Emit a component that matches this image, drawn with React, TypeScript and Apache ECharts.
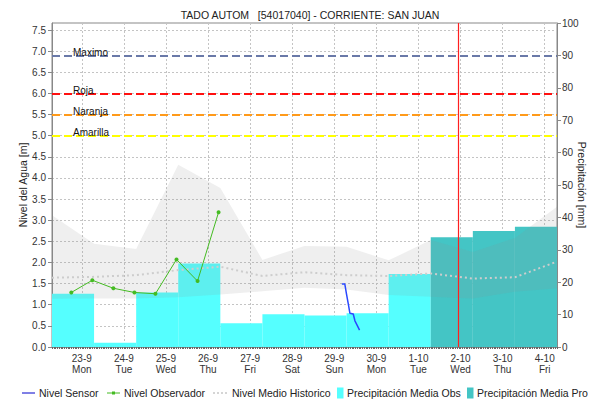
import React, { useEffect, useRef } from "react";
import * as echarts from "echarts";

// ---- data (x in days since 23-9 00:00) ----
const dayLabels = ["23-9", "24-9", "25-9", "26-9", "27-9", "28-9", "29-9", "30-9", "1-10", "2-10", "3-10", "4-10"];
const weekDays = ["Mon", "Tue", "Wed", "Thu", "Fri", "Sat", "Sun", "Mon", "Tue", "Wed", "Thu", "Fri"];
const dayStartOffset = -17 / 24; // precipitation day starts 07:00
const xMin = dayStartOffset;
const xMax = 12 + dayStartOffset;

// precipitation (mm) per day (07:00 -> 07:00)
const precipObs = [16.4, 1.3, 16.8, 25.8, 7.3, 10.1, 9.7, 10.4, 22.5];
const precipPro = [33.9, 35.8, 37.1];

// historical band (m) at 07:00 of each day
const bandUpper = [3.12, 2.44, 2.32, 4.31, 3.76, 2.06, 2.39, 2.37, 2.05, 2.53, 2.25, 2.58, 3.32];
const bandLower = [1.14, 1.15, 1.15, 1.18, 1.24, 1.32, 1.4, 1.36, 1.23, 1.19, 1.15, 1.31, 1.39];
const medioHistorico = [1.64, 1.66, 1.7, 1.82, 1.9, 1.68, 1.77, 1.7, 1.68, 1.74, 1.62, 1.65, 2.02];

// observer readings (06:00 / 18:00)
const obsTimes = [-0.25, 0.25, 0.75, 1.25, 1.75, 2.25, 2.75, 3.25];
const obsLevels = [1.29, 1.58, 1.39, 1.29, 1.26, 2.07, 1.56, 3.19];

// sensor readings
const sensorTimes = [6.18, 6.25, 6.29, 6.33, 6.37, 6.45, 6.49, 6.55, 6.6];
const sensorLevels = [1.49, 1.49, 1.25, 1.03, 0.8, 0.78, 0.62, 0.5, 0.4];

// thresholds
const thresholdNames = ["Maximo", "Roja", "Naranja", "Amarilla"];
const thresholdValues = [6.9, 6.0, 5.5, 5.0];
const thresholdColors = ["#6a79a8", "#ff1010", "#ff9a1a", "#ffff00"];

const nowTime = 8.95;

const FONT = "Liberation Sans, Arial, sans-serif";

export default function App() {
  const ref = useRef<HTMLDivElement>(null);

  useEffect(() => {
    if (!ref.current) return;
    const chart = echarts.init(ref.current, null, { renderer: "svg" });

    const obsBars = precipObs.map((v, k) => [dayStartOffset + k, dayStartOffset + k + 1, v]);
    const proBars = precipPro.map((v, k) => [
      dayStartOffset + precipObs.length + k,
      dayStartOffset + precipObs.length + k + 1,
      v,
    ]);
    const bandData = bandUpper.map((u, k) => [dayStartOffset + k, bandLower[k], u]);
    const medioData = medioHistorico.map((v, k) => [dayStartOffset + k, v]);

    const hours = 12 * 24;
    const firstMidnight = 17;
    const catData = Array.from({ length: hours + 1 }, (_, i) => {
      const k = (i - firstMidnight) / 24;
      if (Number.isInteger(k) && k >= 0 && k < dayLabels.length) return `${dayLabels[k]}\n${weekDays[k]}`;
      return `h${i}`;
    });
    const isMidnight = (i: number) => (i - firstMidnight) % 24 === 0 && i >= firstMidnight;

    const barRender = (color: string) => (params: any, api: any) => {
      const p0 = api.coord([api.value(0), api.value(2)]);
      const p1 = api.coord([api.value(1), 0]);
      return {
        type: "rect",
        shape: { x: p0[0], y: p0[1], width: p1[0] - p0[0], height: p1[1] - p0[1] },
        style: { fill: color },
      };
    };

    const bandRender = (params: any, api: any) => {
      if (params.dataIndex !== 0) return null;
      const n = bandData.length;
      const pts: number[][] = [];
      for (let i = 0; i < n; i++) pts.push(api.coord([api.value(0, i), api.value(2, i)]));
      for (let i = n - 1; i >= 0; i--) pts.push(api.coord([api.value(0, i), api.value(1, i)]));
      return {
        type: "polygon",
        shape: { points: pts },
        style: { fill: "rgba(140,140,140,0.14)" },
      };
    };

    const legendY = 393;
    const legendText = (x: number, text: string) => ({
      type: "text",
      x,
      y: legendY,
      style: { text, fill: "#222", font: `10.5px ${FONT}`, textVerticalAlign: "middle", verticalAlign: "middle" },
    });

    chart.setOption({
      animation: false,
      title: {
        text: "TADO AUTOM   [54017040] - CORRIENTE: SAN JUAN",
        left: 305,
        top: 4,
        textAlign: "center",
        textStyle: { fontFamily: FONT, fontSize: 10.5, fontWeight: "normal", color: "#222" },
      },
      grid: {
        left: 52,
        right: 33,
        top: 23,
        bottom: 54,
        show: true,
        borderColor: "#888",
        borderWidth: 1,
        backgroundColor: "transparent",
        outerBoundsMode: "none",
      },
      xAxis: [
        {
          type: "value",
          min: xMin,
          max: xMax,
          show: false,
          position: "bottom",
          axisLine: { onZero: false },
        },
        {
          type: "category",
          position: "bottom",
          data: catData,
          boundaryGap: false,
          axisLine: { show: true, onZero: false, lineStyle: { color: "#888" } },
          axisTick: { show: true, interval: 0, length: 2, lineStyle: { color: "#666" } },
          axisLabel: {
            interval: (i: number) => isMidnight(i),
            margin: 6,
            fontFamily: FONT,
            fontSize: 10,
            lineHeight: 11,
            color: "#333",
          },
          splitLine: {
            show: true,
            interval: (i: number) => isMidnight(i),
            lineStyle: { color: "#c4c4c4", type: [2, 2], width: 1 },
          },
        },
      ],
      yAxis: [
        {
          type: "value",
          min: 0,
          max: 7.666,
          interval: 0.5,
          position: "left",
          name: "Nivel del Agua [m]",
          nameLocation: "middle",
          nameGap: 24,
          nameMoveOverlap: false,
          nameTextStyle: { fontFamily: FONT, fontSize: 10.5, color: "#222" },
          axisLine: { show: true, onZero: false, lineStyle: { color: "#888" } },
          axisTick: { show: true, length: 4, lineStyle: { color: "#888" } },
          axisLabel: {
            margin: 6,
            fontFamily: FONT,
            fontSize: 10,
            color: "#333",
            showMaxLabel: false,
            formatter: (v: number) => v.toFixed(1),
          },
          splitLine: { show: true, lineStyle: { color: "#c4c4c4", type: [2, 2], width: 1 } },
        },
        {
          type: "value",
          min: 0,
          max: 100,
          interval: 10,
          position: "right",
          name: "Precipitación [mm]",
          nameLocation: "middle",
          nameRotate: -90,
          nameGap: 19,
          nameMoveOverlap: false,
          nameTextStyle: { fontFamily: FONT, fontSize: 10.5, color: "#222" },
          axisLine: { show: true, onZero: false, lineStyle: { color: "#888" } },
          axisTick: { show: true, length: 4, lineStyle: { color: "#888" } },
          axisLabel: { margin: 5, fontFamily: FONT, fontSize: 10, color: "#333" },
          splitLine: { show: false },
        },
      ],
      series: [
        {
          name: "Precipitación Media Obs",
          type: "custom",
          xAxisIndex: 0,
          yAxisIndex: 1,
          z: 1,
          encode: { x: [0, 1], y: 2 },
          renderItem: barRender("#55ffff"),
          data: obsBars,
          silent: true,
        },
        {
          name: "Precipitación Media Pro",
          type: "custom",
          xAxisIndex: 0,
          yAxisIndex: 1,
          z: 1,
          encode: { x: [0, 1], y: 2 },
          renderItem: barRender("#44c5c5"),
          data: proBars,
          silent: true,
        },
        {
          name: "Banda Historica",
          type: "custom",
          xAxisIndex: 0,
          yAxisIndex: 0,
          z: 2,
          encode: { x: 0, y: [1, 2] },
          renderItem: bandRender,
          data: bandData,
          silent: true,
        },
        {
          name: "Nivel Medio Historico",
          type: "line",
          xAxisIndex: 0,
          yAxisIndex: 0,
          z: 3,
          data: medioData,
          showSymbol: false,
          symbol: "none",
          lineStyle: { color: "#cdcdcd", width: 2, type: [2, 3] },
          silent: true,
        },
        {
          name: "Umbrales",
          type: "line",
          xAxisIndex: 0,
          yAxisIndex: 0,
          z: 4,
          data: [],
          markLine: {
            silent: true,
            symbol: ["none", "none"],
            data: [
              ...thresholdValues.map((v, i) => ({
                yAxis: v,
                name: thresholdNames[i],
                lineStyle: { color: thresholdColors[i], width: 2, type: [8, 4] },
                label: {
                  show: true,
                  position: "insideStartTop",
                  formatter: "{b}",
                  distance: [21, -2],
                  color: "#111",
                  fontFamily: FONT,
                  fontSize: 10,
                },
              })),
              {
                xAxis: nowTime,
                lineStyle: { color: "#ff2020", width: 1.2, type: "solid" },
                label: { show: false },
              },
            ],
          },
        },
        {
          name: "Nivel Observador",
          type: "line",
          xAxisIndex: 0,
          yAxisIndex: 0,
          z: 5,
          data: obsTimes.map((t, i) => [t, obsLevels[i]]),
          symbol: "circle",
          symbolSize: 4,
          itemStyle: { color: "#44bb22" },
          lineStyle: { color: "#44bb22", width: 1 },
          silent: true,
        },
        {
          name: "Nivel Sensor",
          type: "line",
          xAxisIndex: 0,
          yAxisIndex: 0,
          z: 5,
          data: sensorTimes.map((t, i) => [t, sensorLevels[i]]),
          showSymbol: false,
          symbol: "none",
          lineStyle: { color: "#2a48ff", width: 1.5 },
          silent: true,
        },
      ],
      graphic: [
        { type: "line", shape: { x1: 22, y1: legendY, x2: 35, y2: legendY }, style: { stroke: "#0000cc", lineWidth: 1 } },
        legendText(39, "Nivel Sensor"),
        { type: "line", shape: { x1: 107, y1: legendY, x2: 120, y2: legendY }, style: { stroke: "#44bb22", lineWidth: 1 } },
        { type: "rect", shape: { x: 112, y: legendY - 1.5, width: 3, height: 3 }, style: { fill: "#44bb22" } },
        legendText(124, "Nivel Observador"),
        {
          type: "line",
          shape: { x1: 213, y1: legendY, x2: 227, y2: legendY },
          style: { stroke: "#c8c8c8", lineWidth: 1.5, lineDash: [2, 2] },
        },
        legendText(232, "Nivel Medio Historico"),
        { type: "rect", shape: { x: 337, y: 387.5, width: 6.5, height: 11 }, style: { fill: "#55ffff" } },
        legendText(347, "Precipitación Media Obs"),
        { type: "rect", shape: { x: 467, y: 387.5, width: 6.5, height: 11 }, style: { fill: "#44c5c5" } },
        legendText(477, "Precipitación Media Pro"),
      ],
    });

    return () => chart.dispose();
  }, []);

  return (
    <div
      ref={ref}
      style={{ position: "absolute", left: 0, top: 0, width: 590, height: 401, background: "#fff" }}
    />
  );
}
